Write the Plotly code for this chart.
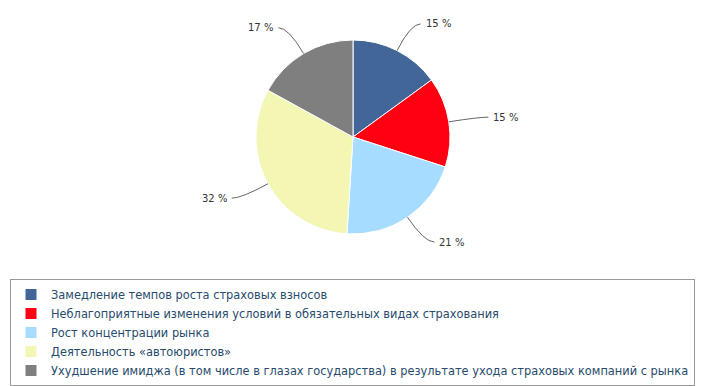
import math
import plotly.graph_objects as go

categories = [
    "Замедление темпов роста страховых взносов",
    "Неблагоприятные изменения условий в обязательных видах страхования",
    "Рост концентрации рынка",
    "Деятельность «автоюристов»",
    "Ухудшение имиджа (в том числе в глазах государства) в результате ухода страховых компаний с рынка",
]
values = [15, 15, 21, 32, 17]
colors = ["#436699", "#FF0012", "#A6DCFF", "#F3F7B3", "#7F7F7F"]

W, H = 702, 386
CX, CY, R = 353, 137, 97      # pie centre / radius in pixels
DIST = 30                      # label distance beyond the rim
GAP = 10                       # horizontal connector tail

def px(x):
    return x / W

def py(y):
    return 1 - y / H

fig = go.Figure(go.Pie(
    labels=categories,
    values=values,
    sort=False,
    direction="clockwise",
    rotation=0,
    marker=dict(colors=colors, line=dict(color="white", width=1)),
    textinfo="none",
    domain=dict(x=[px(CX - R), px(CX + R)], y=[py(CY + R), py(CY - R)]),
    hoverinfo="label+percent",
))

total = sum(values)
cum = 0
shapes = []
annotations = []
for v in values:
    mid = (cum + v / 2) / total * 2 * math.pi
    cum += v
    ux, uy = math.sin(mid), -math.cos(mid)
    ex, ey = CX + R * ux, CY + R * uy
    mx, my = CX + (R + DIST) * ux, CY + (R + DIST) * uy
    side = 1 if ux >= 0 else -1
    lx, ly = mx + side * GAP, my
    path = "M {:.4f},{:.4f} Q {:.4f},{:.4f} {:.4f},{:.4f}".format(
        px(ex), py(ey), px(mx), py(my), px(lx), py(ly))
    shapes.append(dict(type="path", path=path, xref="paper", yref="paper",
                       line=dict(color="#666666", width=1)))
    annotations.append(dict(
        x=px(lx + side * 3), y=py(ly), xref="paper", yref="paper",
        text="{} %".format(v), showarrow=False,
        xanchor="left" if side > 0 else "right", yanchor="middle",
        font=dict(family="DejaVu Sans", size=10, color="#333333"),
    ))

fig.update_layout(
    width=W, height=H,
    margin=dict(l=0, r=0, t=0, b=0),
    paper_bgcolor="white",
    plot_bgcolor="white",
    showlegend=True,
    shapes=shapes,
    annotations=annotations,
    legend=dict(
        x=px(10), y=py(279), xanchor="left", yanchor="top",
        bgcolor="white", bordercolor="#999999", borderwidth=1,
        font=dict(family="DejaVu Sans", size=11.4, color="#274B6D"),
        tracegroupgap=0,
    ),
)

fig.write_html("out.html", config={"displayModeBar": False},
               post_script="document.body.style.margin='0';")
